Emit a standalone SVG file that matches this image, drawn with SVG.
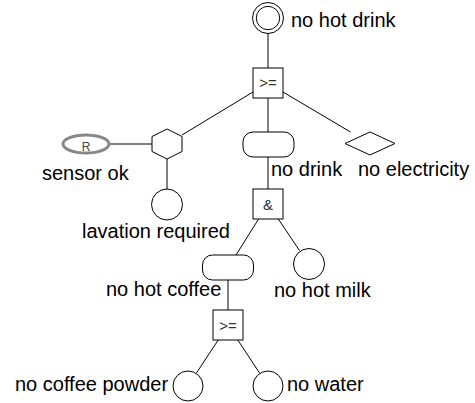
<svg xmlns="http://www.w3.org/2000/svg" width="475" height="403" viewBox="0 0 475 403">
<style>
  .s{fill:#fff;stroke:#000;stroke-width:1}
  .lbl{font-family:"Liberation Sans",Arial,sans-serif;font-size:20px;fill:#000}
  .op{font-family:"Liberation Sans",Arial,sans-serif;font-size:15px;fill:#333;text-anchor:middle}
  .cn line{stroke:#000;stroke-width:1}
</style>
<rect width="475" height="403" fill="#fff"/>
<g class="cn" id="connectors">
  <line x1="268" y1="34" x2="268" y2="68"/>
  <line x1="253" y1="92" x2="182" y2="135"/>
  <line x1="268" y1="98" x2="268" y2="132"/>
  <line x1="283" y1="92" x2="350.5" y2="132"/>
  <line x1="109" y1="144" x2="152" y2="144"/>
  <line x1="167" y1="159" x2="167" y2="189"/>
  <line x1="268" y1="157" x2="268" y2="189"/>
  <line x1="258.6" y1="219" x2="236" y2="255"/>
  <line x1="278.3" y1="219" x2="299.5" y2="250.5"/>
  <line x1="228" y1="280" x2="228" y2="310"/>
  <line x1="218.2" y1="340" x2="196.2" y2="373.4"/>
  <line x1="237.8" y1="340" x2="259.8" y2="373.4"/>
</g>
<g id="no-hot-drink">
  <circle class="s" cx="268" cy="18" r="15.5"/>
  <circle class="s" cx="268" cy="18" r="11.7"/>
  <text class="lbl" x="291" y="27">no hot drink</text>
</g>
<g id="gate-top">
  <rect class="s" x="253" y="68" width="30" height="30"/>
  <text class="op" x="268" y="88">&gt;=</text>
</g>
<g id="sensor-ok">
  <ellipse cx="86" cy="144" rx="23" ry="9" fill="#fff" stroke="#888" stroke-width="3"/>
  <text x="86" y="151" font-family="Liberation Sans,Arial,sans-serif" font-size="12" fill="#444" text-anchor="middle">R</text>
  <text class="lbl" x="42" y="180">sensor ok</text>
</g>
<g id="inhibit">
  <polygon class="s" points="167,129 182,136.5 182,151.5 167,159 152,151.5 152,136.5"/>
</g>
<g id="lavation-required">
  <circle class="s" cx="167" cy="204.5" r="15.5"/>
  <text class="lbl" x="82" y="238">lavation required</text>
</g>
<g id="no-drink">
  <rect class="s" x="243" y="132" width="51" height="25" rx="10"/>
  <text class="lbl" x="271" y="176">no drink</text>
</g>
<g id="no-electricity">
  <polygon class="s" points="345,143.5 370,132 395,143.5 370,155"/>
  <text class="lbl" x="358" y="176">no electricity</text>
</g>
<g id="gate-and">
  <rect class="s" x="253" y="189" width="30" height="30"/>
  <text class="op" x="268" y="210">&amp;</text>
</g>
<g id="no-hot-coffee">
  <rect class="s" x="202.5" y="255" width="51" height="25" rx="10"/>
  <text class="lbl" x="106" y="296">no hot coffee</text>
</g>
<g id="no-hot-milk">
  <circle class="s" cx="309" cy="264" r="15.5"/>
  <text class="lbl" x="274" y="297">no hot milk</text>
</g>
<g id="gate-bottom">
  <rect class="s" x="213" y="310" width="30" height="30"/>
  <text class="op" x="228" y="330.5">&gt;=</text>
</g>
<g id="no-coffee-powder">
  <circle class="s" cx="188" cy="386" r="15"/>
  <text class="lbl" x="15" y="391">no coffee powder</text>
</g>
<g id="no-water">
  <circle class="s" cx="268" cy="386" r="15"/>
  <text class="lbl" x="287" y="391">no water</text>
</g>
</svg>
